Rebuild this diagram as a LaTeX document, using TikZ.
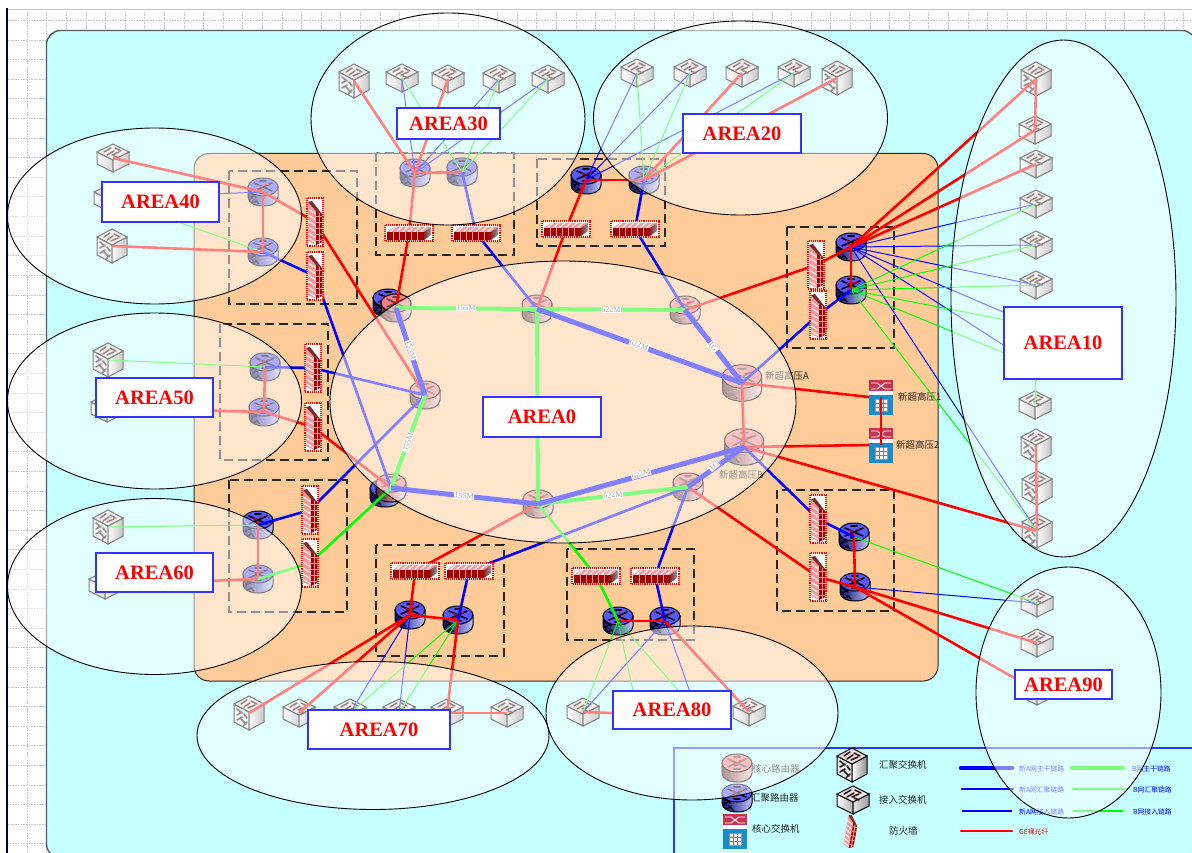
\documentclass[tikz,border=0pt]{standalone}
\usepackage{fontspec}
\setmainfont{Liberation Serif}
\newfontfamily\cjk{Noto Sans CJK SC}
\definecolor{bgcyan}{HTML}{C6FFFF}
\definecolor{orangebg}{HTML}{FFCC99}
\definecolor{gridc}{HTML}{C4C4C4}
\definecolor{lblblue}{HTML}{3333FF}
\definecolor{rtrred}{HTML}{FF5050}
\definecolor{rtrblue}{HTML}{1818FF}
\definecolor{brick}{HTML}{A00000}
\definecolor{graytxt}{HTML}{4D4D4D}
\definecolor{lbltxt}{HTML}{262626}
\definecolor{cswtop}{HTML}{C83250}
\definecolor{cswbot}{HTML}{1A8CC8}
\definecolor{fwpink}{HTML}{F59A9A}
\definecolor{fwcap}{HTML}{7A2A2A}
\newcommand\rtrshape[2]{%
  \path[draw=black,line width=1,left color=#2!45!black,middle color=#2,right color=#2!25!white]
    (-15,-5) -- (-15,5) .. controls (-15,17) and (15,17) .. (15,5) -- (15,-5) -- cycle;
  \draw[#1,line width=1.4,line cap=round] (-13,0) -- (-7,5) (-13,7) -- (-7,2) (-8,8) -- (-4,12) (-11,11) -- (-6,9);
  \path[draw=black,line width=1,fill=#2!72!white] (0,-5) ellipse [x radius=15,y radius=9];
  \draw[#1,line width=1.6,line cap=round] (-9,-9) -- (9,-1) (-9,-1) -- (9,-9) (-3,-11) -- (3,-11) (-3,1) -- (3,1);
  \draw[red!85!black,line width=1.1] (-5,-7) -- (-1,-5) (2,-7) -- (6,-8) (-3,-2) -- (1,-3);
}
\tikzset{
  x=1pt,y=-1pt,
  pics/rtrcore/.style={code={\rtrshape{graytxt}{rtrred}}},
  pics/rtrblue/.style={code={\rtrshape{black}{rtrblue}}},
  pics/swacc/.style={code={
    \path[draw=black,line width=1,left color=white,right color=black!30] (-16,-6) -- (0,2) -- (0,14) -- (-16,6) -- cycle;
    \path[draw=black,line width=1,left color=black!10,right color=black!40] (16,-6) -- (0,2) -- (0,14) -- (16,6) -- cycle;
    \path[draw=black,line width=1,fill=black!10] (0,-14) -- (16,-6) -- (0,2) -- (-16,-6) -- cycle;
    \draw[black!80!red,line width=1.5,line cap=round] (-9,-6) -- (-2,-10) (-6,-3) -- (1,-7) (2,-10) -- (8,-7) (-1,-3) -- (6,-6) (1,-2) -- (6,0);
  }},
  pics/swagg/.style={code={
    \path[draw=black,line width=1,fill=black!8] (-15,-9) -- (0,-1) -- (0,17) -- (-15,9) -- cycle;
    \path[draw=black,line width=1,left color=white,right color=black!45] (15,-9) -- (0,-1) -- (0,17) -- (15,9) -- cycle;
    \path[draw=black,line width=1,fill=black!12] (0,-17) -- (15,-9) -- (0,-1) -- (-15,-9) -- cycle;
    \draw[black!80!red,line width=1.5,line cap=round] (-8,-9) -- (-2,-13) (-5,-6) -- (1,-10) (2,-12) -- (8,-9) (-1,-5) -- (6,-8);
    \draw[black!85,line width=1.7,line cap=round] (-12,-4) -- (-7,0) (-12,2) -- (-7,-1) (-5,1) -- (-2,5) (-12,7) -- (-7,4) (-8,6) -- (-3,11) (-6,13) -- (-2,9);
  }},
  pics/fwv/.style={code={
    \path[fill=white] (-8,-24) rectangle (8,24);
    \path[fill=fwpink] (-7,-20) -- (1,-11) -- (1,23) -- (-7,19) -- cycle;
    \draw[white,line width=1] (-7,-13) -- (1,-8) (-7,-7) -- (1,-2) (-7,-1) -- (1,4) (-7,5) -- (1,10) (-7,11) -- (1,16) (-7,16) -- (1,21);
    \path[fill=brick] (1,-11) -- (7,-8) -- (7,20) -- (1,23) -- cycle;
    \draw[fwpink,line width=.9] (1,-6) -- (7,-6) (1,0) -- (7,0) (1,6) -- (7,6) (1,12) -- (7,12) (1,18) -- (7,18) (4,-9) -- (4,22);
    \path[fill=fwcap] (-7,-20) -- (-3,-21) -- (7,-8) -- (1,-11) -- cycle;
    \draw[red,densely dotted,line width=1.1] (-8,-24) rectangle (8,24);
  }},
  pics/fwh/.style={code={
    \path[fill=white] (-24,-8) rectangle (24,8);
    \path[fill=fwpink] (-22,-1) -- (-15,-6) -- (22,-6) -- (15,-1) -- cycle;
    \draw[white,line width=1] (-19,-1) -- (-13,-6) (-13,-1) -- (-7,-6) (-7,-1) -- (-1,-6) (-1,-1) -- (5,-6) (5,-1) -- (11,-6) (11,-1) -- (17,-6);
    \path[fill=brick] (-22,-1) rectangle (15,7);
    \draw[fwpink,line width=.9] (-16,-1) -- (-16,7) (-10,-1) -- (-10,7) (-4,-1) -- (-4,7) (2,-1) -- (2,7) (8,-1) -- (8,7);
    \path[left color=fwcap,right color=black!40] (15,-1) -- (22,-6) -- (22,2) -- (15,7) -- cycle;
    \draw[red,densely dotted,line width=1.1] (-24,-8) rectangle (24,8);
  }},
  pics/fwleg/.style={code={
    \path[fill=fwpink] (-7,-20) -- (1,-11) -- (1,23) -- (-7,19) -- cycle;
    \draw[white,line width=1] (-7,-13) -- (1,-8) (-7,-7) -- (1,-2) (-7,-1) -- (1,4) (-7,5) -- (1,10) (-7,11) -- (1,16) (-7,16) -- (1,21);
    \path[fill=brick] (1,-11) -- (7,-8) -- (7,20) -- (1,23) -- cycle;
    \draw[fwpink,line width=.9] (1,-6) -- (7,-6) (1,0) -- (7,0) (1,6) -- (7,6) (1,12) -- (7,12) (1,18) -- (7,18) (4,-9) -- (4,22);
    \path[fill=fwcap] (-7,-20) -- (-3,-21) -- (7,-8) -- (1,-11) -- cycle;
  }},
  pics/csw/.style={code={
    \path[fill=cswtop] (-12,-17.5) rectangle (12,-2);
    \path[fill=white] (-12,-6) rectangle (12,-2);
    \draw[white,line width=.9] (-10,-14) -- (-4,-14) -- (4,-8) -- (10,-8) (-10,-8) -- (-4,-8) -- (4,-14) -- (10,-14);
    \path[fill=cswbot] (-12,-2) rectangle (12,17.5);
    \path[fill=white,draw=black!40,line width=.3] (-6,2) rectangle (6,14);
    \draw[black!50,line width=.4] (-2,2) -- (-2,14) (2,2) -- (2,14) (-6,6) -- (6,6) (-6,10) -- (6,10);
  }},
  dv/.style={inner sep=0pt,outer sep=0pt,minimum width=#1,minimum height=#1},
  bbA/.style={draw=blue,line width=5},
  bbB/.style={draw=green,line width=4},
  aggA/.style={draw=blue,line width=2.6},
  aggB/.style={draw=green,line width=2.6},
  accA/.style={draw=blue,line width=1},
  accB/.style={draw=green,line width=1},
  geline/.style={draw=red,line width=2.6},
  dashbox/.style={draw=black!85,line width=1.4,dash pattern=on 9pt off 5pt},
  areacirc/.style={draw=black,line width=.9,fill=white,fill opacity=.5,draw opacity=1},
  arealbl/.style={draw=lblblue,line width=1.4,fill=white,text=red,inner sep=0pt,font=\fontsize{20.5}{24}\selectfont\bfseries},
  spdlbl/.style={fill=white,text=graytxt,inner sep=.6pt,font=\rmfamily\fontsize{8}{9}\selectfont},
  cjklbl/.style={text=lbltxt,inner sep=0pt,font=\cjk\fontsize{9.5}{11}\selectfont},
  legtxt/.style={text=blue,inner sep=0pt,font=\cjk\fontsize{6.8}{8}\selectfont},
}
\newcommand\Rc[3]{\node[dv=28] (#1) at (#2,#3) {}; \pic at (#1.center) {rtrcore};}
\newcommand\RC[3]{\node[dv=38] (#1) at (#2,#3) {}; \pic[scale=1.3] at (#1.center) {rtrcore};}
\newcommand\Rb[3]{\node[dv=28] (#1) at (#2,#3) {}; \pic at (#1.center) {rtrblue};}
\newcommand\Sa[3]{\node[dv=28] (#1) at (#2,#3) {}; \pic at (#1.center) {swacc};}
\newcommand\Sg[3]{\node[dv=32] (#1) at (#2,#3) {}; \pic at (#1.center) {swagg};}
\newcommand\Fn[3]{\node[dv=16] (#1) at (#2,#3) {};}
\newcommand\Fv[1]{\pic at (#1.center) {fwv};}
\newcommand\Fh[1]{\pic at (#1.center) {fwh};}
\newcommand\Cs[3]{\node[dv=24] (#1) at (#2,#3) {}; \pic at (#1.center) {csw};}
\newcommand\lk[3]{\draw[#1] (#2.center) -- (#3.center);}
\newcommand\Lbl[6]{\node[arealbl,minimum width=#4-#3,minimum height=#6-#5] (#1) at ({(#3+#4)/2},{(#5+#6)/2}) {#2};}
\begin{document}
\begin{tikzpicture}
\path[use as bounding box,clip] (0,0) rectangle (1192,853);
\fill[white] (0,0) rectangle (1192,853);
% grid
\foreach \i in {0,...,2} \draw[gridc,line width=.6,dash pattern=on 1.5pt off 1.2pt] ({7.4+19.6*\i},9) -- ({7.4+19.6*\i},853);
\foreach \i in {3,...,60} \draw[gridc,line width=.6,dash pattern=on 1.5pt off 1.2pt] ({7.4+19.6*\i},9) -- ({7.4+19.6*\i},31);
\foreach \i in {0,...,43} \draw[gridc,line width=.6,dash pattern=on 1.5pt off 1.2pt] (7,{20.4+19.6*\i}) -- (47,{20.4+19.6*\i});
\draw[gridc,line width=.6,dash pattern=on 1.5pt off 1.2pt] (7,20.4) -- (1192,20.4);
\draw[gridc,line width=.6] (7,9.5) -- (1192,9.5);
\draw[black!80!blue,line width=2] (7,8) -- (7,853);
% backgrounds
\path[draw=black!65,line width=1.4,fill=bgcyan,rounded corners=14pt] (46.5,30.5) rectangle (1196,858);
\path[draw=black!85,line width=1,fill=orangebg,rounded corners=15pt] (194,153.5) rectangle (938,681);
% legend frame
\draw[lblblue,line width=1.4] (1200,748) -- (674,748) -- (674,860);
% dashed groups
\draw[dashbox] (376,153) rectangle (514,255);
\draw[dashbox] (537,159) rectangle (665,246);
\draw[dashbox] (229,171) rectangle (357,304);
\draw[dashbox] (220,324) rectangle (328,460);
\draw[dashbox] (229,480) rectangle (347,612);
\draw[dashbox] (376,545) rectangle (504,656);
\draw[dashbox] (567,549) rectangle (694,640);
\draw[dashbox] (777,490) rectangle (894,611);
\draw[dashbox] (787,227) rectangle (894,348);
% core routers
\Rb{r1b}{388}{303} \Rb{r5b}{385}{493}
\Rc{r1}{396}{308} \Rc{r2}{537}{309} \Rc{r3}{685}{310} \Rc{r4}{425}{395}
\Rc{r5}{391}{488} \Rc{r6}{538}{504} \Rc{r7}{688}{487}
\RC{r8}{742}{383} \RC{r9}{744}{447}
% core switches
\Cs{c1}{881}{397} \Cs{c2}{881}{445}
% aggregation routers
\Rb{a30a}{415}{173} \Rb{a30b}{462}{172}
\Rb{a20a}{586}{180} \Rb{a20b}{644}{180}
\Rb{a40a}{263}{192} \Rb{a40b}{263}{252}
\Rb{a50a}{265}{367} \Rb{a50b}{264}{412}
\Rb{a60a}{258}{525} \Rb{a60b}{258}{579}
\Rb{a70a}{410}{615} \Rb{a70b}{458}{620}
\Rb{a80a}{618}{621} \Rb{a80b}{665}{621}
\Rb{a90a}{854}{537} \Rb{a90b}{855}{587}
\Rb{a10a}{851}{247} \Rb{a10b}{851}{290}
% firewall anchors (firewalls are drawn above their links)
\Fn{f30a}{409}{233} \Fn{f30b}{476}{233}
\Fn{f20a}{566}{229} \Fn{f20b}{635}{229}
\Fn{f40a}{315}{222} \Fn{f40b}{315}{276}
\Fn{f50a}{313}{368} \Fn{f50b}{313}{427}
\Fn{f60a}{310}{510} \Fn{f60b}{310}{563}
\Fn{f70a}{415}{571} \Fn{f70b}{469}{571}
\Fn{f80a}{596}{576} \Fn{f80b}{655}{576}
\Fn{f90a}{818}{519} \Fn{f90b}{818}{577}
\Fn{f10a}{816}{265} \Fn{f10b}{818}{315}
% access layer: area 30
\Sg{s30a}{354}{81} \Sa{s30b}{402}{78} \Sa{s30c}{448}{79} \Sa{s30d}{499}{79} \Sa{s30e}{548}{79}
% area 20
\Sa{s20a}{637}{73} \Sa{s20b}{690}{73} \Sa{s20c}{742}{73} \Sa{s20d}{794}{73} \Sg{s20e}{837}{78}
% area 10
\Sg{s10a}{1036}{79} \Sa{s10b}{1035}{130} \Sa{s10c}{1036}{164} \Sa{s10d}{1036}{204}
\Sa{s10e}{1036}{245} \Sa{s10f}{1036}{285} \Sa{s10g}{1036}{326} \Sa{s10h}{1036}{366}
\Sa{s10i}{1035}{405} \Sg{s10j}{1036}{446} \Sg{s10k}{1037}{488} \Sg{s10l}{1037}{531}
% area 90
\Sa{s90a}{1037}{603} \Sa{s90b}{1037}{643} \Sa{s90c}{1037}{691}
% area 40, 50, 60
\Sa{s40a}{113}{158} \Sa{s40b}{110}{198} \Sg{s40c}{112}{246}
\Sg{s50a}{108}{360} \Sa{s50b}{107}{408}
\Sg{s60a}{108}{527} \Sa{s60b}{105}{585}
% area 70, 80
\Sg{s70a}{249}{713} \Sa{s70b}{299}{713} \Sa{s70c}{350}{713} \Sa{s70d}{399}{713} \Sa{s70e}{447}{713} \Sa{s70f}{507}{713}
\Sa{s80a}{583}{712} \Sa{s80b}{638}{714} \Sa{s80c}{697}{712} \Sa{s80d}{749}{712}
% device captions under the ellipses
\node[cjklbl,anchor=west] (tA) at (765,376) {新超高压A};
\node[cjklbl,anchor=west] (tB) at (719,475) {新超高压B};
\node[cjklbl,anchor=west] (t1) at (898,397) {新超高压1};
\node[cjklbl,anchor=west] (t2) at (896,445) {新超高压2};
% access links
\lk{accA}{a30a}{s30b} \lk{accA}{a30a}{s30d} \lk{accA}{a30a}{s30e} \lk{accA}{a20a}{s20a} \lk{accA}{a20a}{s20b} \lk{accA}{a20a}{s20d}
\lk{accA}{a10a}{s10d} \lk{accA}{a10a}{s10e} \lk{accA}{a10a}{s10f} \lk{accA}{a10a}{s10g} \lk{accA}{a10a}{s10h} \lk{accA}{a10a}{s10l}
\lk{accA}{a90b}{s90a} \lk{accA}{a70a}{s70c} \lk{accA}{a70a}{s70d} \lk{accA}{a80b}{s80a} \lk{accA}{a80b}{s80c} \lk{accA}{a40a}{s40b}
\lk{accB}{a30b}{s30b} \lk{accB}{a30b}{s30d} \lk{accB}{a30b}{s30e} \lk{accB}{a20b}{s20a} \lk{accB}{a20b}{s20b} \lk{accB}{a20b}{s20d}
\lk{accB}{a10b}{s10d} \lk{accB}{a10b}{s10e} \lk{accB}{a10b}{s10f} \lk{accB}{a10b}{s10g} \lk{accB}{a10b}{s10h} \lk{accB}{a10b}{s10l}
\lk{accB}{s10i}{s10h} \lk{accB}{a90a}{s90a} \lk{accB}{a70b}{s70c} \lk{accB}{a70b}{s70d} \lk{accB}{a80a}{s80a} \lk{accB}{a80a}{s80b}
\lk{accB}{a80a}{s80c} \lk{accB}{a40b}{s40b} \lk{accB}{a50a}{s50a} \lk{accB}{a60a}{s60a}
% GE links
\lk{geline}{a30a}{s30a} \lk{geline}{a30a}{s30c} \lk{geline}{a20b}{s20c} \lk{geline}{a20b}{s20e} \lk{geline}{a10a}{s10a} \lk{geline}{a10a}{s10b}
\lk{geline}{a10a}{s10c} \lk{geline}{s10a}{s10b} \lk{geline}{r9}{s10l} \lk{geline}{s10j}{s10l} \lk{geline}{a90b}{s90b} \lk{geline}{a90b}{s90c}
\lk{geline}{a40a}{s40a} \lk{geline}{a40b}{s40c} \lk{geline}{a50b}{s50b} \lk{geline}{a60b}{s60b} \lk{geline}{a70a}{s70a} \lk{geline}{a70a}{s70b}
\lk{geline}{a70b}{s70e} \lk{geline}{s70e}{s70f} \lk{geline}{s80a}{s80b} \lk{geline}{a80b}{s80d}
% group links
\lk{geline}{r1}{f30a} \lk{geline}{f30a}{a30a} \lk{geline}{a30a}{a30b} \lk{geline}{r2}{f20a} \lk{geline}{f20a}{a20a} \lk{geline}{a20a}{a20b}
\lk{geline}{r3}{f10a} \lk{geline}{f10a}{a10a} \lk{geline}{a10a}{a10b} \lk{geline}{r4}{f40a} \lk{geline}{f40a}{a40a} \lk{geline}{a40a}{a40b}
\lk{geline}{a50a}{a50b} \lk{geline}{f50b}{a50b} \lk{geline}{r5}{f50b} \lk{geline}{a60a}{a60b} \lk{geline}{a70a}{f70a} \lk{geline}{f70a}{r6}
\lk{geline}{a70a}{a70b} \lk{geline}{a80a}{a80b} \lk{geline}{a90a}{a90b} \lk{geline}{a90b}{f90b} \lk{geline}{f90b}{r7}
\draw[geline] (r8.center) -- (c1.west);
\draw[geline] (r9.center) -- (c2.west);
\lk{geline}{c1}{c2} \lk{geline}{r8}{r9}
\lk{aggA}{r2}{f30b} \lk{aggA}{f30b}{a30b} \lk{aggA}{r3}{f20b} \lk{aggA}{f20b}{a20b} \lk{aggA}{r8}{f10b} \lk{aggA}{f10b}{a10b}
\lk{aggA}{a40b}{f40b} \lk{aggA}{f40b}{r5} \lk{aggA}{a50a}{f50a} \lk{aggA}{f50a}{r4} \lk{aggA}{a60a}{f60a} \lk{aggA}{f60a}{r4}
\lk{aggA}{a70b}{f70b} \lk{aggA}{f70b}{r7} \lk{aggA}{a80b}{f80b} \lk{aggA}{f80b}{r7} \lk{aggA}{a90a}{f90a} \lk{aggA}{f90a}{r9}
\lk{aggB}{a60b}{f60b} \lk{aggB}{f60b}{r5} \lk{aggB}{a80a}{f80a} \lk{aggB}{f80a}{r6}
% backbone
\lk{bbB}{r1}{r2} \lk{bbB}{r2}{r3} \lk{bbB}{r2}{r6} \lk{bbB}{r6}{r7} \lk{bbB}{r4}{r5}
\lk{bbA}{r1}{r4} \lk{bbA}{r5}{r6} \lk{bbA}{r2}{r8} \lk{bbA}{r3}{r8} \lk{bbA}{r6}{r9} \lk{bbA}{r7}{r9}
% firewalls above the links
\Fh{f30a} \Fh{f30b} \Fh{f20a} \Fh{f20b} \Fh{f70a} \Fh{f70b} \Fh{f80a} \Fh{f80b}
\Fv{f40a} \Fv{f40b} \Fv{f50a} \Fv{f50b} \Fv{f60a} \Fv{f60b} \Fv{f90a} \Fv{f90b} \Fv{f10a} \Fv{f10b}
% speed labels
\node[spdlbl] (v1) at (466,308) {155M};
\node[spdlbl] (v2) at (611,310) {622M};
\node[spdlbl,rotate=-19] (v3) at (639,345) {622M};
\node[spdlbl,rotate=-50] (v4) at (713,347) {1G};
\node[spdlbl,rotate=-73] (v5) at (411,350) {155M};
\node[spdlbl,rotate=73] (v6) at (408,442) {155M};
\node[spdlbl,rotate=-4] (v7) at (464,496) {155M};
\node[spdlbl,rotate=5] (v8) at (613,495) {622M};
\node[spdlbl,rotate=16] (v9) at (641,474) {622M};
\node[spdlbl,rotate=40] (v10) at (714,466) {1G};
% legend
\Rc{lr1}{737}{768} \Rb{lr2}{737}{798} \Cs{lc}{735}{831}
\Sg{ls1}{852}{765} \Sa{ls2}{853}{800}
\node[dv=16] (lf) at (851,831) {}; \pic[rotate=-10,scale=.75] at (lf.center) {fwleg};
\node[cjklbl,anchor=west] (l1) at (752,769) {核心路由器};
\node[cjklbl,anchor=west] (l2) at (751,798) {汇聚路由器};
\node[cjklbl,anchor=west] (l3) at (752,829) {核心交换机};
\node[cjklbl,anchor=west] (l4) at (879,765) {汇聚交换机};
\node[cjklbl,anchor=west] (l5) at (879,800) {接入交换机};
\node[cjklbl,anchor=west] (l6) at (889,831) {防火墙};
\draw[draw=blue,line width=4.5,line cap=round] (961,768) -- (1012,768);
\draw[draw=green,line width=4.5,line cap=round] (1072,768) -- (1123,768);
\draw[aggA,line cap=round] (962,789) -- (1013,789);
\draw[aggB,line cap=round] (1073,789) -- (1124,789);
\draw[draw=blue,line width=1.1] (962,811) -- (1012,811);
\draw[accB,line width=1.1] (1073,811) -- (1123,811);
\draw[geline,line cap=round] (961,831) -- (1012,831);
\node[legtxt,anchor=west] (k1) at (1019,769) {新A网主干链路};
\node[legtxt,anchor=west] (k2) at (1132,769) {B网主干链路};
\node[legtxt,anchor=west] (k3) at (1019,790) {新A网汇聚链路};
\node[legtxt,anchor=west] (k4) at (1133,790) {B网汇聚链路};
\node[legtxt,anchor=west] (k5) at (1019,812) {新A网接入链路};
\node[legtxt,anchor=west] (k6) at (1133,812) {B网接入链路};
\node[legtxt,anchor=west,text=red] (k7) at (1019,832) {GE裸光纤};
% area ellipses
\path[areacirc] (448,119) ellipse [x radius=137,y radius=106];
\path[areacirc] (740.5,118) ellipse [x radius=147,y radius=97];
\path[areacirc] (154.5,216) ellipse [x radius=147,y radius=88];
\path[areacirc] (154.5,401) ellipse [x radius=147,y radius=88];
\path[areacirc] (154.5,586.5) ellipse [x radius=147,y radius=88];
\path[areacirc] (373,735.5) ellipse [x radius=176,y radius=74];
\path[areacirc] (692,713) ellipse [x radius=146,y radius=87];
\path[areacirc] (1068.5,692.5) ellipse [x radius=92.5,y radius=125.5];
\path[areacirc] (1063.5,298.5) ellipse [x radius=112.5,y radius=258.5];
\path[areacirc] (563,402) ellipse [x radius=233,y radius=141];
% area labels
\Lbl{L30}{AREA30}{397}{500}{108}{139}
\Lbl{L20}{AREA20}{683}{801}{114}{153}
\Lbl{L40}{AREA40}{102}{219}{182}{222}
\Lbl{L50}{AREA50}{96}{213}{378}{417}
\Lbl{L60}{AREA60}{96}{213}{553}{592}
\Lbl{L70}{AREA70}{308}{450}{710}{749}
\Lbl{L80}{AREA80}{613}{731}{691}{729}
\Lbl{L90}{AREA90}{1015}{1112}{670}{699}
\Lbl{L10}{AREA10}{1004}{1122}{307}{379}
\Lbl{L0}{AREA0}{483}{601}{397}{437}
\end{tikzpicture}
\end{document}
